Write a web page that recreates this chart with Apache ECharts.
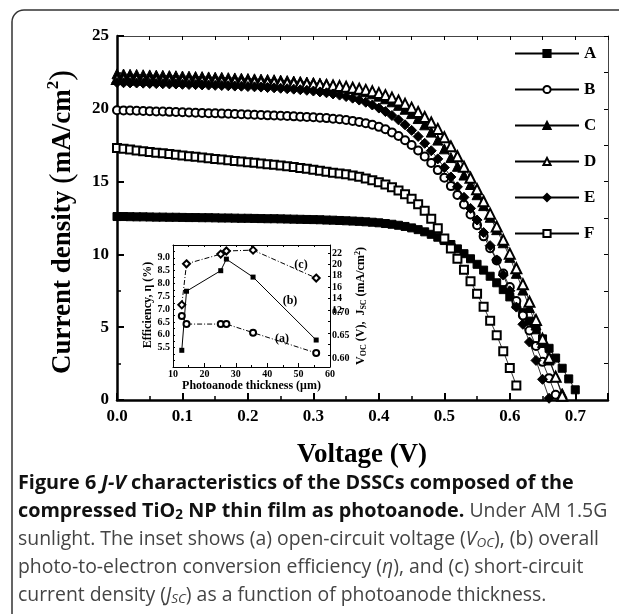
<!DOCTYPE html>
<html>
<head>
<meta charset="utf-8">
<script src="https://cdn.jsdelivr.net/npm/echarts@6/dist/echarts.min.js"></script>
<style>
  html, body { margin: 0; padding: 0; background: #fff; }
  #chart { width: 619px; height: 614px; }
</style>
</head>
<body>
<div id="chart"></div>
<script>
  // J-V curves, one point every 10 mV
  var voltage = [
    0.00, 0.01, 0.02, 0.03, 0.04, 0.05, 0.06, 0.07, 0.08, 0.09,
    0.10, 0.11, 0.12, 0.13, 0.14, 0.15, 0.16, 0.17, 0.18, 0.19,
    0.20, 0.21, 0.22, 0.23, 0.24, 0.25, 0.26, 0.27, 0.28, 0.29,
    0.30, 0.31, 0.32, 0.33, 0.34, 0.35, 0.36, 0.37, 0.38, 0.39,
    0.40, 0.41, 0.42, 0.43, 0.44, 0.45, 0.46, 0.47, 0.48, 0.49,
    0.50, 0.51, 0.52, 0.53, 0.54, 0.55, 0.56, 0.57, 0.58, 0.59,
    0.60, 0.61, 0.62, 0.63, 0.64, 0.65, 0.66, 0.67, 0.68, 0.69,
    0.70
  ]
  var curveA = [
    12.60, 12.60, 12.59, 12.58, 12.58, 12.57, 12.56, 12.56, 12.55, 12.55,
    12.54, 12.53, 12.53, 12.52, 12.52, 12.51, 12.50, 12.50, 12.49, 12.48,
    12.48, 12.47, 12.46, 12.45, 12.45, 12.44, 12.43, 12.42, 12.41, 12.40,
    12.39, 12.38, 12.36, 12.35, 12.33, 12.31, 12.29, 12.27, 12.24, 12.21,
    12.17, 12.12, 12.07, 12.00, 11.92, 11.82, 11.70, 11.55, 11.38, 11.18,
    10.95, 10.68, 10.38, 10.05, 9.70, 9.32, 8.92, 8.50, 8.05, 7.58,
    7.08, 6.55, 6.00, 5.42, 4.82, 4.20, 3.55, 2.88, 2.18, 1.45,
    0.70
  ]
  var curveB = [
    19.90, 19.89, 19.88, 19.86, 19.85, 19.84, 19.82, 19.81, 19.79, 19.78,
    19.76, 19.75, 19.73, 19.72, 19.70, 19.69, 19.67, 19.66, 19.64, 19.62,
    19.61, 19.59, 19.57, 19.55, 19.54, 19.52, 19.50, 19.48, 19.46, 19.44,
    19.42, 19.39, 19.36, 19.32, 19.28, 19.23, 19.17, 19.10, 19.01, 18.90,
    18.76, 18.59, 18.38, 18.13, 17.84, 17.51, 17.14, 16.73, 16.28, 15.79,
    15.26, 14.69, 14.08, 13.43, 12.74, 12.01, 11.24, 10.43, 9.58, 8.69,
    7.76, 6.80, 5.80, 4.77, 3.71, 2.62, 1.50, 0.36
  ]
  var curveC = [
    22.40, 22.39, 22.37, 22.36, 22.34, 22.33, 22.31, 22.30, 22.28, 22.27,
    22.25, 22.24, 22.22, 22.21, 22.19, 22.17, 22.16, 22.14, 22.12, 22.10,
    22.08, 22.06, 22.04, 22.02, 22.00, 21.97, 21.94, 21.91, 21.88, 21.84,
    21.80, 21.75, 21.70, 21.64, 21.57, 21.49, 21.40, 21.29, 21.17, 21.03,
    20.87, 20.69, 20.48, 20.24, 19.97, 19.67, 19.33, 18.90, 18.40, 17.85,
    17.25, 16.65, 16.05, 15.45, 14.80, 14.10, 13.35, 12.55, 11.70, 10.80,
    9.80, 8.70, 7.55, 6.35, 5.15, 3.95, 2.75, 1.60, 0.45
  ]
  var curveD = [
    22.05, 22.04, 22.03, 22.02, 22.01, 22.00, 21.99, 21.98, 21.97, 21.96,
    21.95, 21.94, 21.93, 21.92, 21.91, 21.90, 21.89, 21.88, 21.87, 21.86,
    21.85, 21.84, 21.83, 21.81, 21.80, 21.78, 21.77, 21.75, 21.73, 21.71,
    21.69, 21.66, 21.63, 21.60, 21.56, 21.51, 21.45, 21.38, 21.30, 21.20,
    21.08, 20.94, 20.77, 20.57, 20.34, 20.08, 19.78, 19.44, 19.06, 18.62,
    18.05, 17.42, 16.74, 16.02, 15.26, 14.47, 13.65, 12.80, 11.92, 11.00,
    10.05, 9.05, 7.95, 6.75, 5.50, 4.20, 2.90, 1.60, 0.30
  ]
  var curveE = [
    21.80, 21.79, 21.78, 21.77, 21.76, 21.74, 21.73, 21.72, 21.71, 21.70,
    21.68, 21.67, 21.66, 21.64, 21.63, 21.61, 21.60, 21.58, 21.56, 21.55,
    21.53, 21.51, 21.49, 21.46, 21.44, 21.41, 21.38, 21.35, 21.31, 21.27,
    21.22, 21.16, 21.10, 21.02, 20.94, 20.84, 20.73, 20.60, 20.45, 20.26,
    20.05, 19.81, 19.54, 19.24, 18.90, 18.52, 18.10, 17.63, 17.12, 16.56,
    15.96, 15.32, 14.64, 13.92, 13.16, 12.36, 11.50, 10.60, 9.62, 8.58,
    7.50, 6.38, 5.20, 3.98, 2.72, 1.42, 0.12
  ]
  var curveF = [
    17.30, 17.25, 17.20, 17.14, 17.09, 17.04, 16.99, 16.94, 16.89, 16.84,
    16.79, 16.74, 16.70, 16.65, 16.60, 16.56, 16.51, 16.47, 16.42, 16.38,
    16.33, 16.29, 16.24, 16.19, 16.15, 16.10, 16.05, 16.00, 15.94, 15.88,
    15.82, 15.75, 15.68, 15.60, 15.55, 15.50, 15.42, 15.33, 15.22, 15.10,
    14.96, 14.80, 14.61, 14.39, 14.13, 13.82, 13.45, 13.00, 12.45, 11.80,
    11.10, 10.40, 9.70, 8.95, 8.15, 7.30, 6.40, 5.45, 4.45, 3.35,
    2.20, 1.00
  ]
  var curveNames = ['A', 'B', 'C', 'D', 'E', 'F']

  // inset: photoanode thickness (um)
  var thickness = [12.8, 14.3, 25.2, 27.0, 35.5, 55.6]
  var efficiency = [5.4, 7.7, 8.5, 8.95, 8.25, 5.8]   // (b) %
  var vocValues = [0.693, 0.675, 0.675, 0.675, 0.656, 0.611]   // (a) V
  var jscValues = [12.9, 20.1, 21.8, 22.35, 22.5, 17.6]   // (c) mA/cm2

  var SERIF = 'Liberation Serif'
  var SANS = 'Open Sans'

  function pairs (ys) {
    return ys.map(function (y, i) { return [voltage[i], y] })
  }
  function insetPairs (ys) {
    return ys.map(function (y, i) { return [thickness[i], y] })
  }

  var mainSymbols = [
    { symbol: 'rect', size: 8 },
    { symbol: 'emptyCircle', size: 8 },
    { symbol: 'triangle', size: 10 },
    { symbol: 'emptyTriangle', size: 10 },
    { symbol: 'diamond', size: 10 },
    { symbol: 'emptyRect', size: 8 }
  ]
  var curves = [curveA, curveB, curveC, curveD, curveE, curveF]

  var series = curves.map(function (ys, k) {
    return {
      name: curveNames[k],
      type: 'line',
      xAxisIndex: 0,
      yAxisIndex: 0,
      data: pairs(ys),
      symbol: mainSymbols[k].symbol,
      symbolSize: mainSymbols[k].size,
      itemStyle: { color: '#000', borderColor: '#000', borderWidth: 1 },
      lineStyle: { color: '#000', width: 0.8 },
      z: 3 + k
    }
  })

  var dashDot = [5, 2, 1, 2]
  series.push({
    name: 'eff', type: 'line', xAxisIndex: 2, yAxisIndex: 2,
    data: insetPairs(efficiency), symbol: 'rect', symbolSize: 5,
    itemStyle: { color: '#000' }, lineStyle: { color: '#000', width: 1 }, z: 10
  })
  series.push({
    name: 'voc', type: 'line', xAxisIndex: 2, yAxisIndex: 4,
    data: insetPairs(vocValues), symbol: 'emptyCircle', symbolSize: 6,
    itemStyle: { color: '#000', borderWidth: 1 }, lineStyle: { color: '#000', width: 1, type: dashDot }, z: 10
  })
  series.push({
    name: 'jsc', type: 'line', xAxisIndex: 2, yAxisIndex: 3,
    data: insetPairs(jscValues), symbol: 'emptyDiamond', symbolSize: 7,
    itemStyle: { color: '#000', borderWidth: 1 }, lineStyle: { color: '#000', width: 1, type: dashDot }, z: 10
  })

  var boldSerif = function (size) {
    return { fontFamily: SERIF, fontWeight: 'bold', fontSize: size, color: '#000' }
  }

  function plainAxis (extra) {
    var base = {
      type: 'value',
      splitLine: { show: false },
      axisLine: { show: true, onZero: false, lineStyle: { color: '#000', width: 1 } },
      axisTick: { show: true, inside: true, length: 4, lineStyle: { color: '#000', width: 1 } },
      axisLabel: { show: false }
    }
    return Object.assign(base, extra)
  }

  var option = {
    animation: false,
    backgroundColor: '#fff',
    grid: [
      { left: 117, top: 36, width: 491, height: 364 },
      { left: 173, top: 245, width: 157, height: 122, show: true, backgroundColor: '#fff', borderWidth: 0, z: 8 }
    ],
    legend: {
      data: curveNames,
      orient: 'vertical',
      left: 509,
      top: 40,
      itemWidth: 64,
      itemHeight: 9,
      itemGap: 19,
      textStyle: boldSerif(17)
    },
    xAxis: [
      plainAxis({
        gridIndex: 0, min: 0, max: 0.75, interval: 0.1,
        axisLine: { onZero: false, lineStyle: { color: '#000', width: 2.5 } },
        axisTick: { inside: true, length: 7, lineStyle: { color: '#000', width: 2 } },
        minorTick: { show: true, splitNumber: 2, length: 4, lineStyle: { color: '#000', width: 1.5 } },
        axisLabel: Object.assign(boldSerif(17), {
          show: true, margin: 8,
          formatter: function (v) { return v > 0.71 ? '' : v.toFixed(1) }
        })
      }),
      plainAxis({ gridIndex: 0, position: 'top', min: 0, max: 0.75, interval: 0.05,
        axisLine: { onZero: false, lineStyle: { color: '#444', width: 1 } } }),
      plainAxis({
        gridIndex: 1, min: 10, max: 60, interval: 10, z: 9,
        minorTick: { show: true, splitNumber: 2, length: 2, lineStyle: { color: '#000' } },
        axisLabel: Object.assign(boldSerif(10), { show: true, margin: 2 }),
        name: 'Photoanode thickness (\u03bcm)',
        nameLocation: 'middle',
        nameGap: 13,
        nameTextStyle: boldSerif(12)
      }),
      plainAxis({ gridIndex: 1, position: 'top', min: 10, max: 60, interval: 5, z: 9,
        axisTick: { inside: true, length: 2, lineStyle: { color: '#000' } } })
    ],
    yAxis: [
      plainAxis({
        gridIndex: 0, min: 0, max: 25, interval: 5,
        axisLine: { onZero: false, lineStyle: { color: '#000', width: 2.5 } },
        axisTick: { inside: true, length: 7, lineStyle: { color: '#000', width: 2 } },
        minorTick: { show: true, splitNumber: 2, length: 4, lineStyle: { color: '#000', width: 1.5 } },
        axisLabel: Object.assign(boldSerif(17), { show: true, margin: 8 })
      }),
      plainAxis({ gridIndex: 0, position: 'right', min: 0, max: 25, interval: 2.5,
        axisLine: { onZero: false, lineStyle: { color: '#444', width: 1 } } }),
      plainAxis({
        gridIndex: 1, min: 4.75, max: 9.5, interval: 0.25, z: 9,
        axisTick: { inside: true, length: 2, lineStyle: { color: '#000' } },
        axisLabel: Object.assign(boldSerif(10), {
          show: true, margin: 3,
          formatter: function (v) {
            var k = Math.round(v * 100)
            return (k % 50 === 0 && k >= 550 && k <= 900) ? (k / 100).toFixed(1) : ''
          }
        })
      }),
      plainAxis({
        gridIndex: 1, position: 'right', min: 2, max: 23.4, interval: 2, z: 9,
        axisTick: { inside: true, length: 2, lineStyle: { color: '#000' } },
        axisLabel: Object.assign(boldSerif(10), {
          show: true, margin: 2,
          formatter: function (v) { return (v >= 12 && v <= 22) ? String(v) : '' }
        })
      }),
      plainAxis({
        gridIndex: 1, position: 'right', min: 0.58, max: 0.85, interval: 0.01, z: 9,
        axisLine: { show: false, onZero: false },
        axisTick: { show: false },
        axisLabel: Object.assign(boldSerif(10), {
          show: true, margin: 2,
          formatter: function (v) {
            var k = Math.round(v * 100)
            return (k === 60 || k === 65 || k === 70) ? (k / 100).toFixed(2) : ''
          }
        })
      })
    ],
    series: series,
    graphic: [
      // rounded frame around figure + caption
      { type: 'rect', silent: true, shape: { x: 12, y: 10, width: 700, height: 700, r: 12 },
        style: { fill: 'none', stroke: '#333', lineWidth: 1.5 } },
      {
        type: 'text', x: 63, y: 222, rotation: Math.PI / 2, silent: true,
        style: {
          text: '{b|Current density }{p|(}{b|mA/cm}{s|2}{p|)}',
          textAlign: 'center', textVerticalAlign: 'middle',
          rich: {
            b: { fontFamily: SERIF, fontWeight: 'bold', fontSize: 27, fill: '#000' },
            p: { fontFamily: SERIF, fontSize: 32, fill: '#000' },
            s: { fontFamily: SERIF, fontWeight: 'bold', fontSize: 17, fill: '#000', padding: [0, 0, 18, 0] }
          }
        }
      },
      {
        type: 'text', x: 362, y: 455, silent: true,
        style: { text: 'Voltage (V)', textAlign: 'center', textVerticalAlign: 'middle',
          fontFamily: SERIF, fontWeight: 'bold', fontSize: 27, fill: '#000' }
      },
      {
        type: 'text', x: 148, y: 305, rotation: Math.PI / 2, silent: true, z: 20,
        style: { text: 'Efficiency, \u03b7 (%)', textAlign: 'center', textVerticalAlign: 'middle',
          fontFamily: SERIF, fontWeight: 'bold', fontSize: 12, fill: '#000' }
      },
      {
        type: 'text', x: 361, y: 306, rotation: Math.PI / 2, silent: true, z: 20,
        style: {
          text: '{t|V}{s|OC}{t| (V),  J}{s|SC}{t| (mA/cm}{u|2}{t|)}',
          textAlign: 'center', textVerticalAlign: 'middle',
          rich: {
            t: { fontFamily: SERIF, fontWeight: 'bold', fontSize: 12, fill: '#000' },
            s: { fontFamily: SERIF, fontWeight: 'bold', fontSize: 8, fill: '#000', padding: [5, 0, 0, 0] },
            u: { fontFamily: SERIF, fontWeight: 'bold', fontSize: 8, fill: '#000', padding: [0, 0, 6, 0] }
          }
        }
      },
      { type: 'text', x: 282, y: 339, silent: true, z: 20,
        style: { text: '(a)', textAlign: 'center', textVerticalAlign: 'middle', fontFamily: SERIF, fontWeight: 'bold', fontSize: 12, fill: '#000' } },
      { type: 'text', x: 290, y: 301, silent: true, z: 20,
        style: { text: '(b)', textAlign: 'center', textVerticalAlign: 'middle', fontFamily: SERIF, fontWeight: 'bold', fontSize: 12, fill: '#000' } },
      { type: 'text', x: 301, y: 265, silent: true, z: 20,
        style: { text: '(c)', textAlign: 'center', textVerticalAlign: 'middle', fontFamily: SERIF, fontWeight: 'bold', fontSize: 12, fill: '#000' } }
    ]
  }

  // figure caption
  var capRich = {
    b: { fontFamily: SANS, fontWeight: 'bold', fontSize: 19.8, fill: '#111' },
    bi: { fontFamily: SANS, fontWeight: 'bold', fontStyle: 'italic', fontSize: 19.8, fill: '#111' },
    bs: { fontFamily: SANS, fontWeight: 'bold', fontSize: 13.5, fill: '#111', padding: [9, 0, 0, 0] },
    r: { fontFamily: SANS, fontSize: 19.4, fill: '#444' },
    i: { fontFamily: SANS, fontStyle: 'italic', fontSize: 19.4, fill: '#444' },
    is: { fontFamily: SANS, fontStyle: 'italic', fontSize: 13.5, fill: '#444', padding: [9, 0, 0, 0] }
  }
  var captionLines = [
    '{b|Figure 6 }{bi|J-V}{b| characteristics of the DSSCs composed of the}',
    '{b|compressed TiO}{bs|2}{b| NP thin film as photoanode.}{r| Under AM 1.5G}',
    '{r|sunlight. The inset shows (a) open-circuit voltage (}{i|V}{is|OC}{r|), (b) overall}',
    '{r|photo-to-electron conversion efficiency (}{i|\u03b7}{r|), and (c) short-circuit}',
    '{r|current density (}{i|J}{is|SC}{r|) as a function of photoanode thickness.}'
  ]
  captionLines.forEach(function (line, i) {
    option.graphic.push({
      type: 'text', x: 18, y: 483 + i * 28, silent: true,
      style: { text: line, textAlign: 'left', textVerticalAlign: 'middle', rich: capRich }
    })
  })

  var chart = echarts.init(document.getElementById('chart'))
  chart.setOption(option)
</script>
</body>
</html>
